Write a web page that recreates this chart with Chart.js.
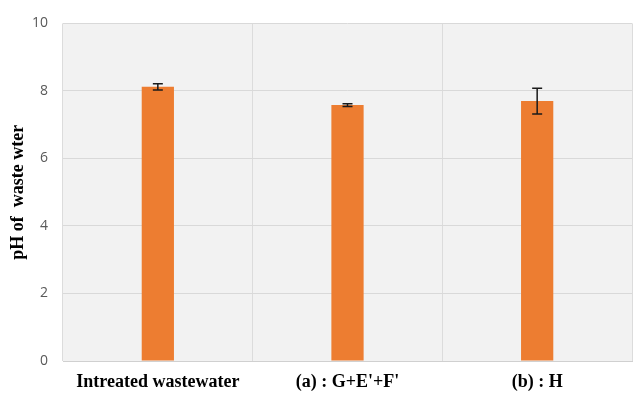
<!DOCTYPE html>
<html>
<head>
<meta charset="utf-8">
<script src="https://cdn.jsdelivr.net/npm/chart.js@4"></script>
<style>
  html, body { margin: 0; padding: 0; background: #ffffff; }
  #wrap { width: 634px; height: 394px; }
</style>
</head>
<body>
<div id="wrap"><canvas id="c" width="634" height="394"></canvas></div>
<script>
// pH of wastewater per treatment, with standard deviation
const categories = ["Intreated wastewater", "(a) : G+E'+F'", "(b) : H"];
const phValues = [8.12, 7.58, 7.70];
const phErrors = [0.09, 0.04, 0.38];
const yTicks = [0, 2, 4, 6, 8, 10];

// Fills the plot area with a light grey panel
const plotBackground = {
  id: 'plotBackground',
  beforeDraw(chart) {
    const { ctx, chartArea } = chart;
    ctx.save();
    ctx.fillStyle = '#f2f2f2';
    ctx.fillRect(chartArea.left, chartArea.top, chartArea.right - chartArea.left, chartArea.bottom - chartArea.top);
    ctx.restore();
  }
};

// Draws symmetric error bars on top of each bar
const errorBars = {
  id: 'errorBars',
  afterDatasetsDraw(chart) {
    const { ctx } = chart;
    const meta = chart.getDatasetMeta(0);
    const y = chart.scales.y;
    ctx.save();
    ctx.strokeStyle = '#1a1a1a';
    ctx.lineWidth = 1.5;
    meta.data.forEach((bar, i) => {
      const v = phValues[i], e = phErrors[i];
      const yTop = y.getPixelForValue(v + e);
      const yBot = y.getPixelForValue(v - e);
      const x = bar.x;
      const cap = 5;
      ctx.beginPath();
      ctx.moveTo(x, yTop); ctx.lineTo(x, yBot);
      ctx.moveTo(x - cap, yTop); ctx.lineTo(x + cap, yTop);
      ctx.moveTo(x - cap, yBot); ctx.lineTo(x + cap, yBot);
      ctx.stroke();
    });
    ctx.restore();
  }
};

new Chart(document.getElementById('c'), {
  type: 'bar',
  data: {
    labels: categories,
    datasets: [{
      data: phValues,
      backgroundColor: '#ed7d31',
      borderWidth: 0,
      barPercentage: 1,
      categoryPercentage: 0.17
    }]
  },
  options: {
    responsive: false,
    animation: false,
    devicePixelRatio: 1,
    layout: { padding: { top: 21, right: 2, left: 0, bottom: 0 } },
    plugins: { legend: { display: false }, tooltip: { enabled: false } },
    scales: {
      x: {
        offset: true,
        grid: { offset: true, color: '#dcdcdc', lineWidth: 1, drawTicks: false },
        border: { display: true, color: '#d0d0d0' },
        ticks: {
          color: '#000000',
          padding: 11,
          font: { family: 'Liberation Serif', size: 18, weight: 'bold' }
        },
        afterFit(scale) { scale.height = 33; }
      },
      y: {
        min: 0,
        max: 10,
        afterBuildTicks(scale) { scale.ticks = yTicks.map(v => ({ value: v })); },
        grid: { color: '#d9d9d9', lineWidth: 1, drawTicks: false },
        border: { display: false },
        ticks: {
          color: '#595959',
          padding: 15,
          font: { family: 'Open Sans', size: 14 }
        },
        title: {
          display: true,
          text: 'pH of  waste wter',
          color: '#000000',
          padding: { top: 8, bottom: 4 },
          font: { family: 'Liberation Serif', size: 18, weight: 'bold' }
        },
        afterFit(scale) { scale.width = 63; }
      }
    }
  },
  plugins: [plotBackground, errorBars]
});
</script>
</body>
</html>
